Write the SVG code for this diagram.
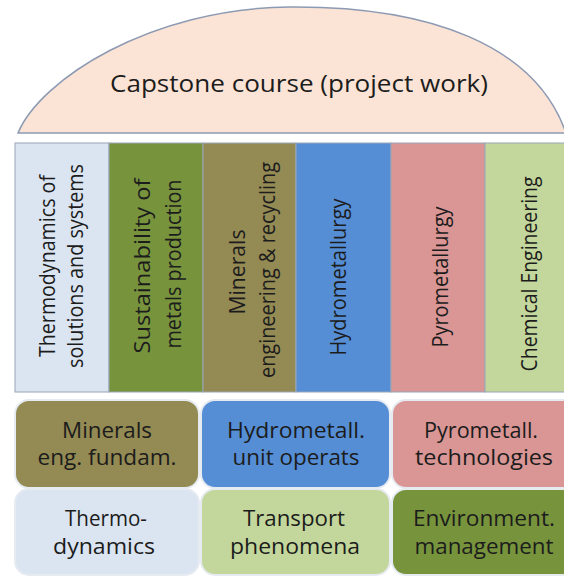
<svg xmlns="http://www.w3.org/2000/svg" width="564" height="576" viewBox="0 0 564 576">
<style>
text{font-family:"Open Sans","Noto Sans","Liberation Sans",sans-serif;fill:#1c1c1c;}
.t{font-size:24px;}
.v{font-size:22px;text-anchor:middle;}
.b{font-size:21.5px;text-anchor:middle;}
.col{stroke:#9aa6b8;stroke-width:1;}
.box{stroke:#e6ebf2;stroke-width:2;}
</style>
<rect width="564" height="576" fill="#ffffff"/>
<g id="capstone">
<path d="M18,133 C40,80 150,8 290,7 C430,6 535,45 566,133 Z" fill="#fbe4d5" stroke="#8d9ab3" stroke-width="1.5"/>
<text class="t" x="110" y="92" textLength="378" lengthAdjust="spacingAndGlyphs">Capstone course (project work)</text>
</g>
<g id="col-thermo">
<rect class="col" x="15" y="143" width="94" height="249" fill="#dbe5f1"/>
<text class="v" transform="translate(55,266) rotate(-90)" textLength="182" lengthAdjust="spacingAndGlyphs">Thermodynamics of</text>
<text class="v" transform="translate(83,266) rotate(-90)" textLength="204" lengthAdjust="spacingAndGlyphs">solutions and systems</text>
</g>
<g id="col-sustain">
<rect class="col" x="109" y="143" width="94" height="249" fill="#77933c"/>
<text class="v" transform="translate(150,266) rotate(-90)" textLength="175" lengthAdjust="spacingAndGlyphs">Sustainability of</text>
<text class="v" transform="translate(181,264) rotate(-90)" textLength="169" lengthAdjust="spacingAndGlyphs">metals production</text>
</g>
<g id="col-minerals">
<rect class="col" x="203" y="143" width="93" height="249" fill="#948a54"/>
<text class="v" transform="translate(245,272) rotate(-90)" textLength="85" lengthAdjust="spacingAndGlyphs">Minerals</text>
<text class="v" transform="translate(275,270) rotate(-90)" textLength="216" lengthAdjust="spacingAndGlyphs">engineering &amp; recycling</text>
</g>
<g id="col-hydro">
<rect class="col" x="296" y="143" width="95" height="249" fill="#558ed5"/>
<text class="v" transform="translate(346,277) rotate(-90)" textLength="157" lengthAdjust="spacingAndGlyphs">Hydrometallurgy</text>
</g>
<g id="col-pyro">
<rect class="col" x="391" y="143" width="94" height="249" fill="#d99694"/>
<text class="v" transform="translate(448,277) rotate(-90)" textLength="141" lengthAdjust="spacingAndGlyphs">Pyrometallurgy</text>
</g>
<g id="col-chem">
<rect class="col" x="485" y="143" width="94" height="249" fill="#c3d69b"/>
<text class="v" transform="translate(537,274) rotate(-90)" textLength="195" lengthAdjust="spacingAndGlyphs">Chemical Engineering</text>
</g>
<g id="box-minerals">
<rect class="box" x="15" y="400" width="184" height="88" rx="14" fill="#948a54"/>
<text class="b" x="107" y="438" textLength="90" lengthAdjust="spacingAndGlyphs">Minerals</text>
<text class="b" x="107" y="465" textLength="139" lengthAdjust="spacingAndGlyphs">eng. fundam.</text>
</g>
<g id="box-hydro">
<rect class="box" x="201" y="400" width="189" height="88" rx="14" fill="#558ed5"/>
<text class="b" x="296" y="438" textLength="138" lengthAdjust="spacingAndGlyphs">Hydrometall.</text>
<text class="b" x="296" y="465" textLength="127" lengthAdjust="spacingAndGlyphs">unit operats</text>
</g>
<g id="box-pyro">
<rect class="box" x="392" y="400" width="186" height="88" rx="14" fill="#d99694"/>
<text class="b" x="481" y="438" textLength="114" lengthAdjust="spacingAndGlyphs">Pyrometall.</text>
<text class="b" x="484" y="465" textLength="138" lengthAdjust="spacingAndGlyphs">technologies</text>
</g>
<g id="box-thermo">
<rect class="box" x="15" y="489" width="184" height="86" rx="14" fill="#dbe5f1"/>
<text class="b" x="106" y="526" textLength="82" lengthAdjust="spacingAndGlyphs">Thermo-</text>
<text class="b" x="104" y="554" textLength="102" lengthAdjust="spacingAndGlyphs">dynamics</text>
</g>
<g id="box-transport">
<rect class="box" x="201" y="489" width="189" height="86" rx="14" fill="#c3d69b"/>
<text class="b" x="294" y="526" textLength="102" lengthAdjust="spacingAndGlyphs">Transport</text>
<text class="b" x="295" y="554" textLength="130" lengthAdjust="spacingAndGlyphs">phenomena</text>
</g>
<g id="box-environment">
<rect class="box" x="392" y="489" width="186" height="86" rx="14" fill="#77933c"/>
<text class="b" x="484" y="526" textLength="142" lengthAdjust="spacingAndGlyphs">Environment.</text>
<text class="b" x="484" y="554" textLength="139" lengthAdjust="spacingAndGlyphs">management</text>
</g>
<g id="connectors"></g>
</svg>
